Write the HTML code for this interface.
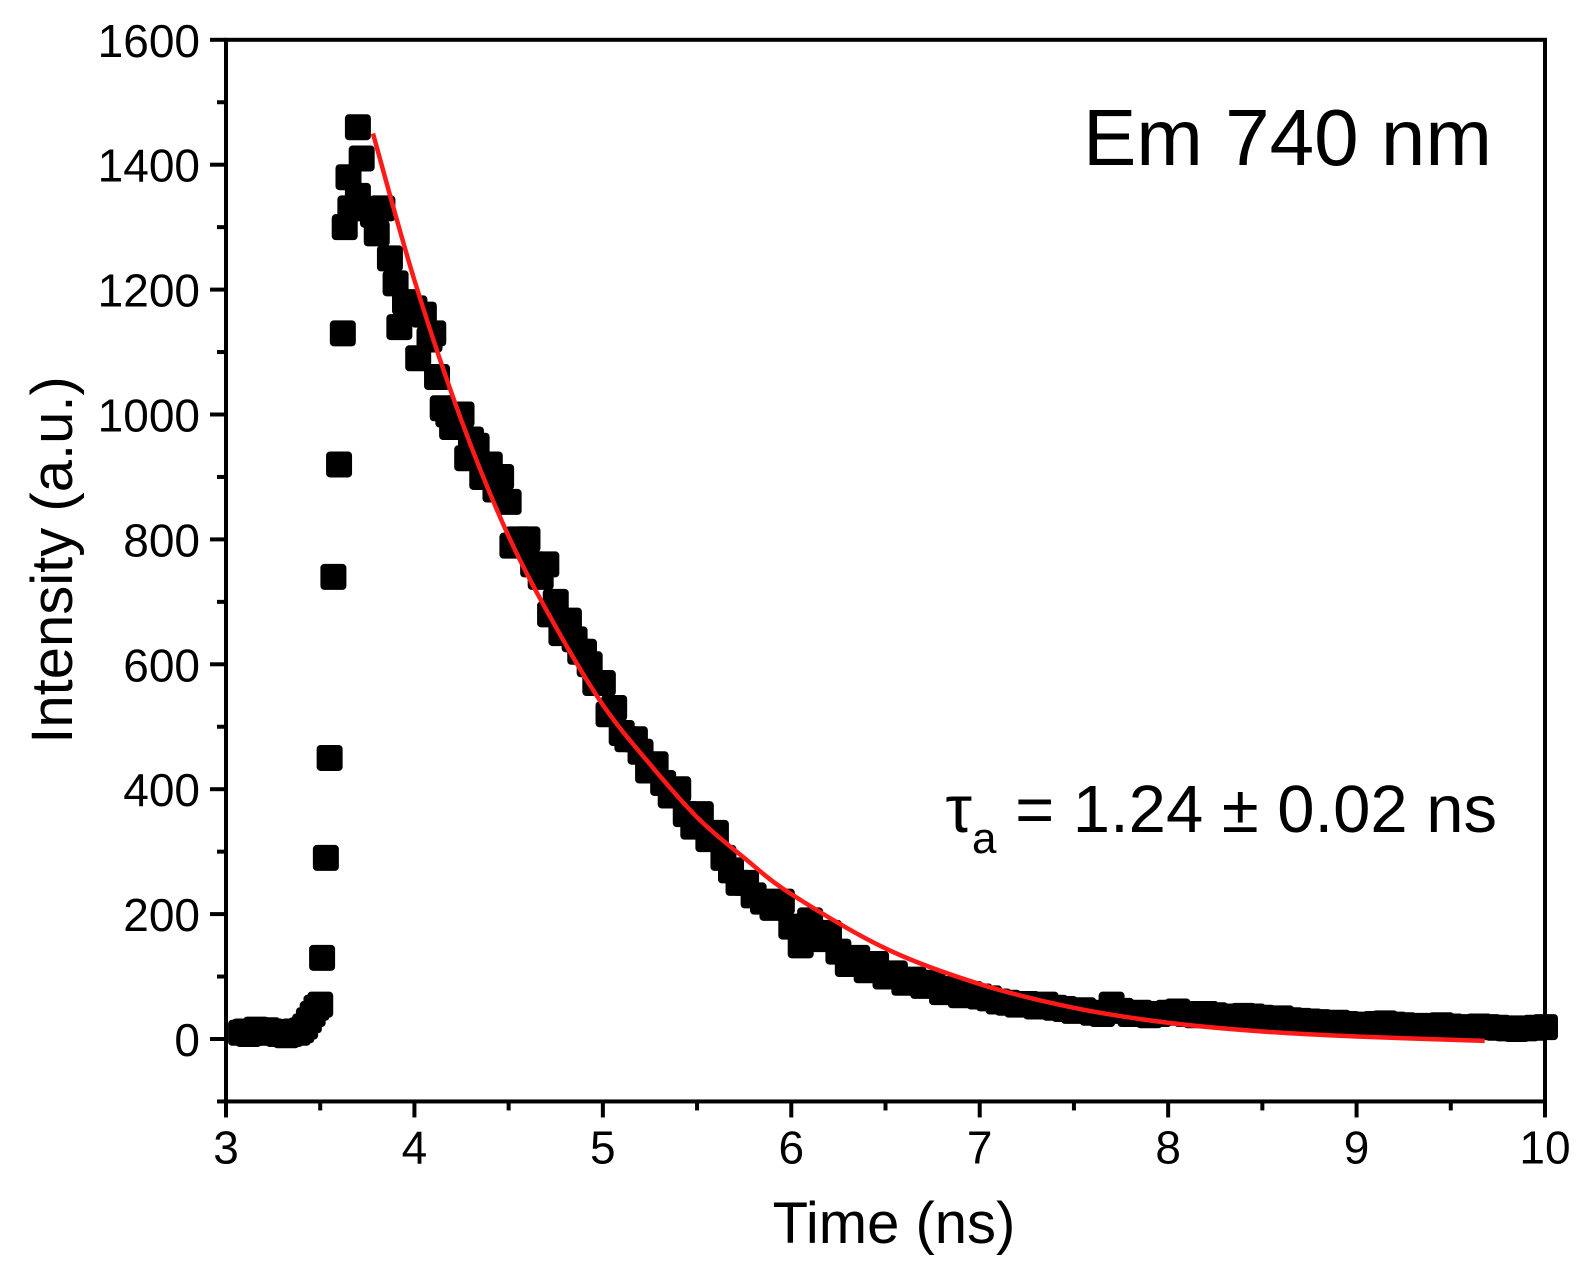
<!DOCTYPE html>
<html><head><meta charset="utf-8"><style>
html,body{margin:0;padding:0;background:#fff;}
svg{display:block;font-family:"Liberation Sans",Arial,sans-serif;}
</style></head><body>
<svg id="chart" width="1588" height="1285" viewBox="0 0 1588 1285" xmlns="http://www.w3.org/2000/svg">
<g id="marks"></g>
<path id="fit" fill="none" stroke="#ff1a1a" stroke-width="4.5"/>
<g id="axes"></g>
<text x="1492" y="165" font-size="80" text-anchor="end">Em 740 nm</text>
<text x="1497" y="832" font-size="67" text-anchor="end">τ<tspan font-size="44" dy="21">a</tspan><tspan dy="-21"> = 1.24 ± 0.02 ns</tspan></text>
<text x="894" y="1243" font-size="58" text-anchor="middle">Time (ns)</text>
<text transform="translate(72,560) rotate(-90)" font-size="58" text-anchor="middle">Intensity (a.u.)</text>
</svg>
<script>
const times = [3.08,3.1,3.12,3.14,3.16,3.18,3.2,3.22,3.24,3.26,3.28,3.3,3.32,3.34,3.36,3.38,3.4,3.42,3.44,3.46,3.48,3.5,3.51,3.53,3.55,3.57,3.6,3.62,3.63,3.65,3.66,3.7,3.72,3.7,3.78,3.8,3.83,3.87,3.9,3.92,3.95,4,4.02,4.05,4.08,4.1,4.12,4.15,4.18,4.2,4.25,4.28,4.3,4.33,4.36,4.4,4.43,4.46,4.5,4.52,4.55,4.6,4.63,4.67,4.7,4.72,4.75,4.78,4.82,4.85,4.88,4.9,4.93,4.96,5,5.03,5.06,5.1,5.13,5.17,5.2,5.24,5.28,5.32,5.36,5.4,5.44,5.48,5.52,5.56,5.6,5.64,5.68,5.72,5.76,5.8,5.85,5.9,5.95,6,6.05,6.1,6.15,6.2,6.25,6.3,6.35,6.4,6.45,6.5,6.55,6.6,6.65,6.7,6.75,6.8,6.85,6.9,6.95,7,7.05,7.1,7.15,7.2,7.25,7.3,7.35,7.4,7.45,7.5,7.55,7.6,7.65,7.7,7.75,7.8,7.85,7.9,7.95,8,8.05,8.1,8.15,8.2,8.25,8.3,8.35,8.4,8.45,8.5,8.55,8.6,8.65,8.7,8.75,8.8,8.85,8.9,8.95,9,9.05,9.1,9.15,9.2,9.25,9.3,9.35,9.4,9.45,9.5,9.55,9.6,9.65,9.7,9.75,9.8,9.85,9.9,9.95,10];
const intensity = [10,12,8,10,15,12,10,14,12,10,8,10,6,8,12,10,14,20,30,40,50,55,130,290,450,740,920,1130,1300,1380,1330,1460,1410,1350,1320,1290,1330,1250,1210,1140,1180,1170,1090,1160,1120,1130,1060,1010,1000,980,1000,930,960,950,900,920,880,900,860,790,800,800,760,740,760,680,700,650,670,640,620,620,600,570,570,520,530,490,480,480,460,430,440,410,390,400,360,340,360,320,330,290,270,250,250,230,220,210,220,180,150,190,160,170,140,120,130,110,120,100,105,90,95,85,90,75,80,70,72,68,65,60,58,55,56,52,55,50,48,45,46,42,40,55,45,40,42,38,40,42,44,40,38,40,38,36,35,37,36,34,32,33,30,29,28,27,25,26,24,23,22,24,25,23,22,21,20,21,22,20,18,19,20,19,18,17,16,17,18,19,20];
const fitTimes = [3.78,4,4.25,4.5,4.75,5,5.25,5.5,5.75,6,6.5,7,7.5,8,8.5,9,9.68];
const fitValues = [1450,1215,990,805,660,535,440,355,290,232,145,88,50,26,12,4,-3];
const xTicks = [3,4,5,6,7,8,9,10];
const yTicks = [0,200,400,600,800,1000,1200,1400,1600];

const X0=226,X1=1545,Y0=1039,YPER=124.9/200;
const xs = t => X0 + (t-3)*(X1-X0)/7;
const ys = v => Y0 - v*YPER;
const NS='http://www.w3.org/2000/svg';
function mk(tag, attrs, parent){const e=document.createElementNS(NS,tag);for(const k in attrs)e.setAttribute(k,attrs[k]);parent.appendChild(e);return e;}

const marks=document.getElementById('marks');
times.forEach((t,i)=>{
  const r=mk('rect',{x:xs(t)-13,y:ys(intensity[i])-13,width:26,height:26,rx:4,fill:'#000'},marks);
  
  
});

const pts=fitTimes.map((t,i)=>[xs(t),ys(fitValues[i])]);
let d='M'+pts[0][0]+','+pts[0][1];
for(let i=0;i<pts.length-1;i++){
  const p0=pts[Math.max(0,i-1)],p1=pts[i],p2=pts[i+1],p3=pts[Math.min(pts.length-1,i+2)];
  const c1=[p1[0]+(p2[0]-p0[0])/6,p1[1]+(p2[1]-p0[1])/6];
  const c2=[p2[0]-(p3[0]-p1[0])/6,p2[1]-(p3[1]-p1[1])/6];
  d+=` C${c1[0]},${c1[1]} ${c2[0]},${c2[1]} ${p2[0]},${p2[1]}`;
}
document.getElementById('fit').setAttribute('d',d);

const ax=document.getElementById('axes');
const yB=ys(-100), yT=ys(1600);
mk('rect',{x:X0,y:yT,width:X1-X0,height:yB-yT,fill:'none',stroke:'#000','stroke-width':4},ax);
xTicks.forEach(t=>{
  mk('line',{x1:xs(t),x2:xs(t),y1:yB,y2:yB+16,stroke:'#000','stroke-width':4},ax);
  const lb=mk('text',{x:xs(t),y:yB+62,'font-size':46,'text-anchor':'middle'},ax);
  lb.textContent=t;
  
  
  if(t<10){const m=t+0.5;mk('line',{x1:xs(m),x2:xs(m),y1:yB,y2:yB+9,stroke:'#000','stroke-width':4},ax);}
});
yTicks.forEach(v=>{
  mk('line',{x1:X0-16,x2:X0,y1:ys(v),y2:ys(v),stroke:'#000','stroke-width':4},ax);
  const lb=mk('text',{x:X0-26,y:ys(v)+17,'font-size':46,'text-anchor':'end'},ax);
  lb.textContent=v;
  
  
  if(v<1600){mk('line',{x1:X0-9,x2:X0,y1:ys(v+100),y2:ys(v+100),stroke:'#000','stroke-width':4},ax);}
});
mk('line',{x1:X0-9,x2:X0,y1:ys(-100),y2:ys(-100),stroke:'#000','stroke-width':4},ax);
</script>
</body></html>
